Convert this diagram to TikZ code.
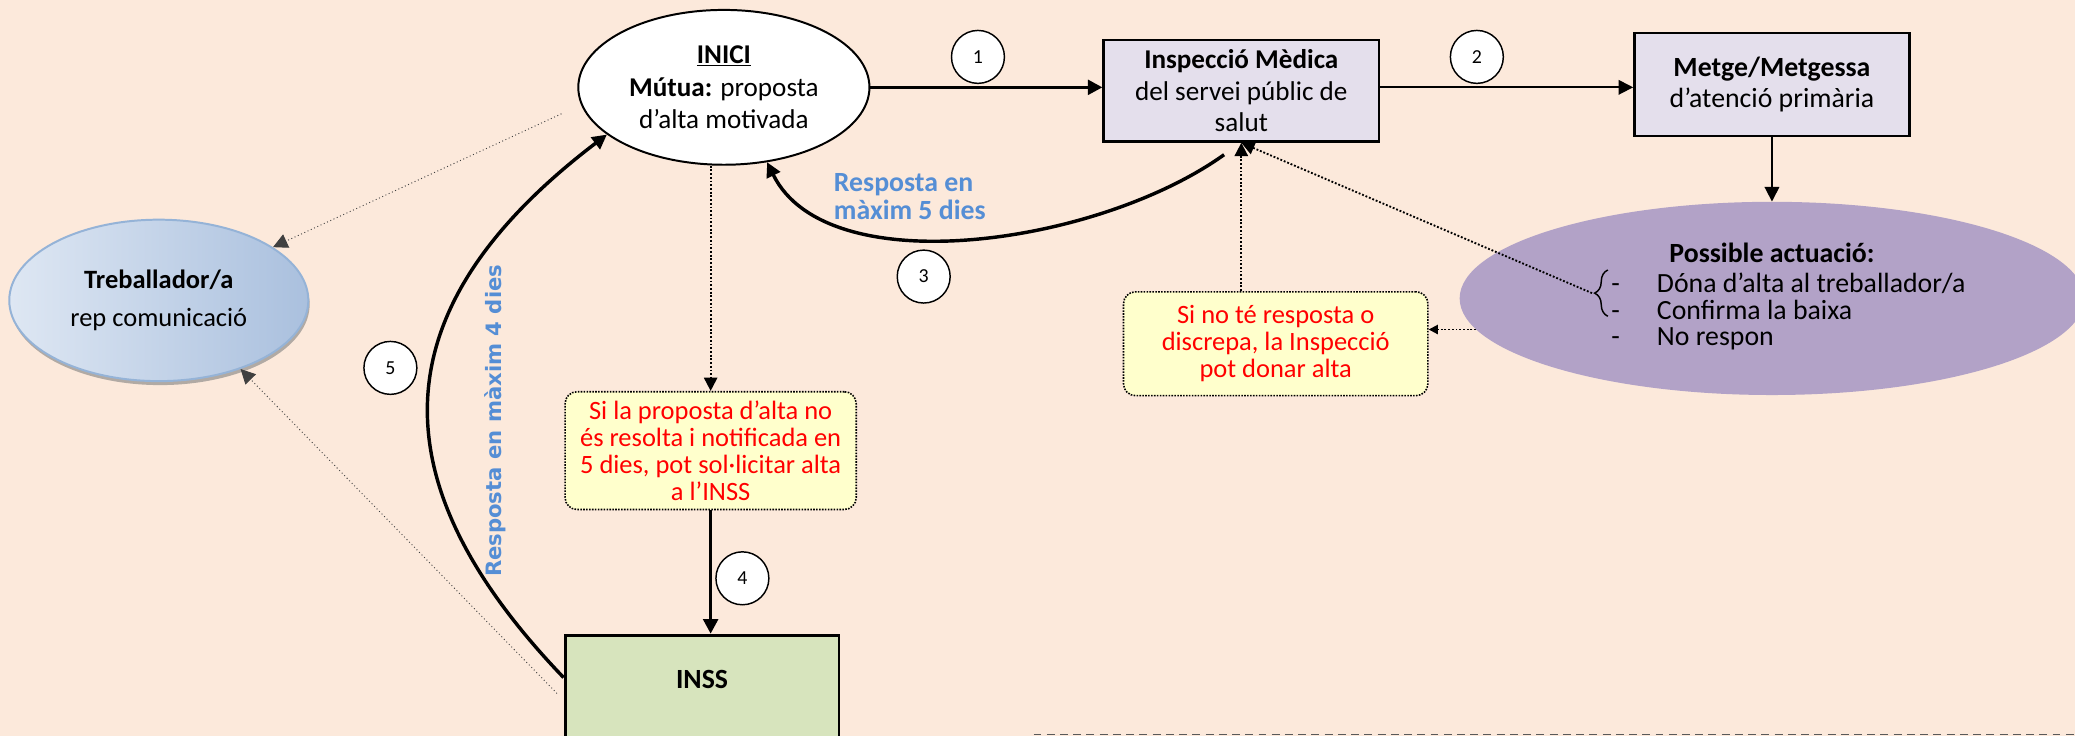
\documentclass[tikz,border=0pt]{standalone}
\usepackage{xcolor}
\usepackage{fontspec}
\setmainfont{Carlito}
\newfontfamily\dejavu{DejaVu Sans}
\usetikzlibrary{shapes.geometric,arrows.meta,shadows,decorations.pathreplacing}

\definecolor{bgPeach}{RGB}{252,233,219}
\definecolor{boxLilac}{RGB}{228,223,236}
\definecolor{actPurple}{RGB}{178,162,199}
\definecolor{inssGreen}{RGB}{215,228,189}
\definecolor{noteYellow}{RGB}{255,255,204}
\definecolor{labelBlue}{RGB}{85,142,213}
\definecolor{tbLight}{RGB}{222,231,243}
\definecolor{tbDark}{RGB}{170,192,222}
\definecolor{tbEdge}{RGB}{149,179,215}

\begin{document}
\begin{tikzpicture}[x=1pt,y=-1pt,
  >={Triangle[length=11pt,width=11pt]},
  box/.style={rectangle,draw,line width=1.8pt,fill=boxLilac,align=center,inner sep=0pt,minimum width=208pt,font=\fontsize{20.5}{24}\selectfont},
  note/.style={rectangle,rounded corners=9pt,draw,densely dotted,line width=1.2pt,fill=noteYellow,text=red,align=center,inner sep=0pt,font=\fontsize{20}{20.3}\selectfont},
  numcirc/.style={circle,draw,line width=1.1pt,fill=white,minimum size=40pt,inner sep=0pt,font=\fontsize{15}{15}\selectfont},
  bigarrow/.style={->,line width=2.6pt},
  thinarrow/.style={->,line width=1.3pt},
  dotarrow/.style={-{Triangle[length=10pt,width=10pt]},dash pattern=on 1.4pt off 1.4pt,line width=1.4pt},
  finearrow/.style={-{Triangle[length=11pt,width=11pt]},dotted,line width=0.7pt,black!75}
]
\useasboundingbox (0,0) rectangle (1568,556);
\fill[bgPeach] (0,0) rectangle (1568,556);

% boxes and ellipses
\node at (547,66) [ellipse,draw,line width=1.5pt,fill=white,minimum width=220pt,minimum height=117pt,inner sep=0pt,align=center,font=\fontsize{20.5}{24.5}\selectfont] (inici) {\textbf{\underline{INICI}}\\\textbf{Mútua:} proposta\\d’alta motivada};
\node at (938,68.5) [box,minimum height=77pt] (insp) {\textbf{Inspecció Mèdica}\\del servei públic de\\salut};
\node at (1339,64) [box,minimum height=78pt,font=\fontsize{21}{23}\selectfont] (metge) {\textbf{Metge/Metgessa}\\d’atenció primària};
\node at (1339,225.5) [ellipse,fill=actPurple,minimum width=472pt,minimum height=146pt,inner sep=0pt,align=center,font=\fontsize{21}{19.6}\selectfont] (actua) {\textbf{Possible actuació:}\\[3pt]\hspace*{25pt}\begin{tabular}[t]{@{}l@{\hspace{28pt}}l@{}}-&Dóna d’alta al treballador/a\\-&Confirma la baixa\\-&No respon\end{tabular}};
\node at (120,227) [ellipse,draw=tbEdge,line width=1.5pt,left color=tbLight,right color=tbDark,drop shadow={shadow xshift=1pt,shadow yshift=-3pt,fill=gray,opacity=.6},minimum width=226pt,minimum height=122pt,inner sep=0pt,align=center,font=\fontsize{20}{24}\selectfont] (treb) {\textbf{Treballador/a}\\[5pt]rep comunicació};
\node at (530.5,540) [rectangle,draw,line width=2.2pt,fill=inssGreen,minimum width=207pt,minimum height=120pt,inner sep=0pt,text height=15pt,text depth=55pt,font=\fontsize{21}{24}\selectfont\bfseries] (inss) {INSS};
\node at (537,340.5) [note,minimum width=220pt,minimum height=89pt] (notaInss) {Si la proposta d’alta no\\és resolta i notificada en\\5 dies, pot sol·licitar alta\\a l’INSS};
\node at (964,259.75) [note,minimum width=230pt,minimum height=78.5pt] (notaInsp) {Si no té resposta o\\discrepa, la Inspecció\\pot donar alta};

% labels
\node at (630,148.5) [anchor=west,inner sep=0pt,align=left,text=labelBlue,font=\fontsize{21}{21}\selectfont\bfseries] (lab3) {Resposta en\\màxim 5 dies};
\node at (374,318) [rotate=90,text=labelBlue,font=\dejavu\bfseries\fontsize{16}{19}\selectfont] (lab5) {Resposta en màxim 4 dies};

% brace
\draw[decorate,decoration={brace,amplitude=10pt},line width=1.1pt] (1215,239) -- (1215,204);
\coordinate (bracetip) at (1203,221.5);

% connectors
\draw[bigarrow] (inici.east) -- (inici.east -| insp.west);
\draw[thinarrow] (insp.east |- inici.east) -- (metge.west |- inici.east);
\draw[thinarrow] (metge.south) -- (actua.north);
\draw[bigarrow] ([shift={(-13pt,-9pt)}]insp.south) .. controls (830,185) and (625,215) .. (inici.-60);
\draw[dotarrow] (inici.south -| notaInss.north) -- (notaInss.north);
\draw[bigarrow] (notaInss.south) -- (notaInss.south |- inss.north);
\draw[bigarrow] ([yshift=28pt]inss.west) .. controls (280,360) and (290,230) .. (inici.-158);
\draw[finearrow] ([shift={(-12pt,-20pt)}]inici.west) -- (treb.25);
\draw[finearrow] ([shift={(-5pt,16pt)}]inss.west) -- (treb.-40);
\draw[dotarrow] (notaInsp.north -| insp.south) -- (insp.south);
\draw[dotarrow] (bracetip) -- (insp.south);
\draw[dotarrow,-{Triangle[length=7pt,width=7pt]}] (actua.186.9) -- (actua.186.9 -| notaInsp.east);

% step numbers
\node at (739,43) [numcirc] (n1) {1};
\node at (1116,43) [numcirc] (n2) {2};
\node at (698,209) [numcirc] (n3) {3};
\node at (561,437) [numcirc] (n4) {4};
\node at (295,278) [numcirc] (n5) {5};

\draw[dashed,dash pattern=on 6pt off 4pt,line width=1.3pt,gray!70!black] (781,555) -- (1568,555);
\end{tikzpicture}
\end{document}
